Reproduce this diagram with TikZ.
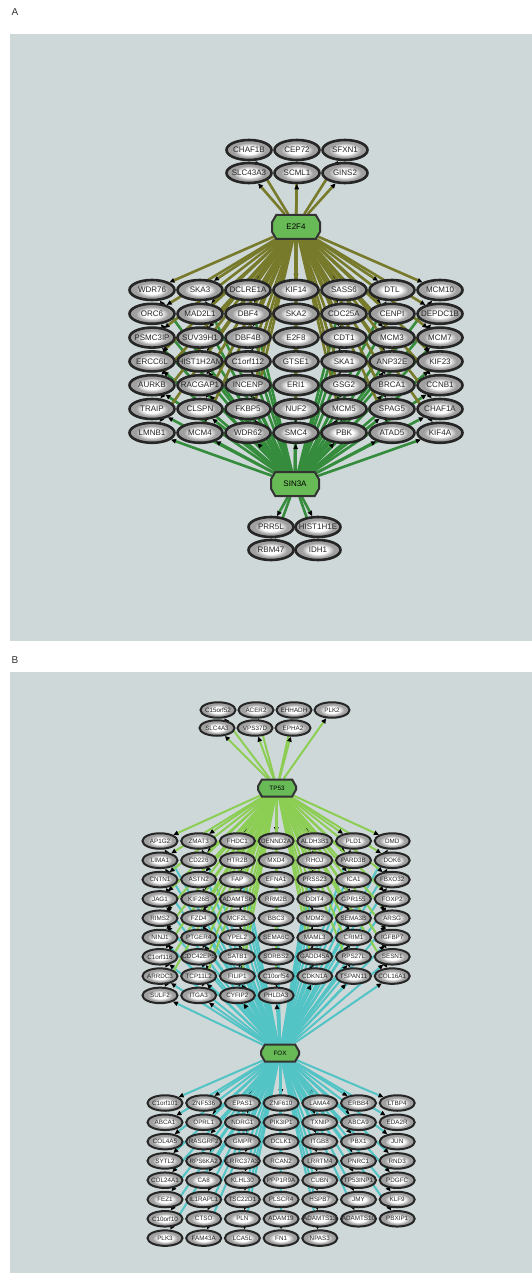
\documentclass[tikz,border=0pt]{standalone}
\usepackage{fontspec}
\setmainfont{Liberation Sans}
\usetikzlibrary{shapes.geometric,shapes.misc,arrows.meta}
\definecolor{panelbg}{RGB}{207,216,216}
\definecolor{oliveE}{RGB}{118,122,42}
\definecolor{greenS}{RGB}{52,140,60}
\definecolor{greenT}{RGB}{140,206,84}
\definecolor{cyanF}{RGB}{82,196,198}
\definecolor{hubfill}{RGB}{104,186,86}
\definecolor{generim}{RGB}{160,160,160}
\pgfdeclareradialshading{geneball}{\pgfpoint{0bp}{0bp}}{color(0bp)=(white); color(10bp)=(white); color(18bp)=(generim); color(50bp)=(generim)}
\pgfdeclarelayer{panel}
\pgfdeclarelayer{edges}
\pgfsetlayers{panel,edges,main}

\begin{document}
\begin{tikzpicture}[x=1pt,y=-1pt,
	gene/.style={ellipse,draw=black!85,shading=geneball,inner sep=0pt,text=black!85},
	geneA/.style={gene,line width=2.6pt,minimum width=45pt,minimum height=20pt,font=\fontsize{8}{8}\selectfont},
	geneB/.style={gene,line width=2pt,minimum width=35pt,minimum height=15.5pt,font=\fontsize{6.3}{6.3}\selectfont},
	hub/.style={chamfered rectangle,chamfered rectangle angle=30,draw=black!80,fill=hubfill,line width=2pt,inner sep=1pt},
	hubA/.style={hub,minimum width=48pt,minimum height=24pt,chamfered rectangle xsep=9pt,font=\fontsize{8}{8}\selectfont},
	hubB/.style={hub,minimum width=38pt,minimum height=17pt,chamfered rectangle xsep=7pt,font=\fontsize{6.3}{6.3}\selectfont},
	tip/.style={-{Triangle[color=black,length=5pt,width=4.5pt]}},
	linkE/.style={tip,oliveE,line width=2.6pt},
	linkS/.style={tip,greenS,line width=2.6pt},
	linkT/.style={tip,greenT,line width=2pt},
	linkF/.style={tip,cyanF,line width=2pt},
	panellabel/.style={font=\fontsize{10}{10}\selectfont,text=black!80}]
	\useasboundingbox (0,0) rectangle (532,1273);
	\begin{pgfonlayer}{panel}
		\fill[panelbg] (10,34) rectangle (532,641);
		\fill[panelbg] (10,672) rectangle (532,1273);
	\end{pgfonlayer}
	\node[panellabel] (labA) at (15,12) {A};
	\node[panellabel] (labB) at (15,660) {B};

	% panel A
	\node[hubA] (E2F4) at (296,227) {E2F4};
	\node[hubA] (SIN3A) at (295,484) {SIN3A};
	\foreach \g/\x/\y in {CHAF1B/249/150,CEP72/297/150,SFXN1/345/150,SLC43A3/249/173,SCML1/297/173,GINS2/345/173}{
		\node[geneA] (\g) at (\x,\y) {\makebox[0pt]{\g}};
		\begin{pgfonlayer}{edges}\draw[linkE] (E2F4) -- (\g);\end{pgfonlayer}
	}
	\foreach \row [count=\r] in {
		{WDR76,SKA3,DCLRE1A,KIF14,SASS6,DTL,MCM10},
		{ORC6,MAD2L1,DBF4,SKA2,CDC25A,CENPI,DEPDC1B},
		{PSMC3IP,SUV39H1,DBF4B,E2F8,CDT1,MCM3,MCM7},
		{ERCC6L,HIST1H2AM,C1orf112,GTSE1,SKA1,ANP32E,KIF23},
		{AURKB,RACGAP1,INCENP,ERI1,GSG2,BRCA1,CCNB1},
		{TRAIP,CLSPN,FKBP5,NUF2,MCM5,SPAG5,CHAF1A},
		{LMNB1,MCM4,WDR62,SMC4,PBK,ATAD5,KIF4A}}{
		\foreach \g [count=\c] in \row {
			\node[geneA] (a\r-\c) at ({152+48*(\c-1)},{290+23.8*(\r-1)}) {\makebox[0pt]{\g}};
			\begin{pgfonlayer}{edges}
				\draw[linkE] (E2F4) -- (a\r-\c);
				\draw[linkS] (SIN3A) -- (a\r-\c);
			\end{pgfonlayer}
		}
	}
	\foreach \g/\x/\y in {PRR5L/271/527,HIST1H1E/318/527,RBM47/271/550,IDH1/318/550}{
		\node[geneA] (\g) at (\x,\y) {\makebox[0pt]{\g}};
		\begin{pgfonlayer}{edges}\draw[linkS] (SIN3A) -- (\g);\end{pgfonlayer}
	}

	% panel B
	\node[hubB] (TP53) at (277,788) {TP53};
	\node[hubB] (FOX) at (280,1053) {FOX};
	\foreach \g/\x/\y in {C15orf52/218/710,ACER2/256/710,EHHADH/294/710,PLK2/332/710,SLC4A3/217/728,VPS37D/255/728,EPHA2/293/728}{
		\node[geneB] (\g) at (\x,\y) {\makebox[0pt]{\g}};
		\begin{pgfonlayer}{edges}\draw[linkT] (TP53) -- (\g);\end{pgfonlayer}
	}
	\foreach \row [count=\r] in {
		{AP1G2,ZMAT3,FHDC1,DENND2A,ALDH3B1,PLD1,DMD},
		{LIMA1,CD226,HTR2B,MXD4,RHOJ,PARD3B,DOK6},
		{CNTN1,ASTN2,FAP,EFNA1,PRSS23,ICA1,FBXO32},
		{JAG1,KIF26B,ADAMTS6,RRM2B,DDIT4,GPR155,FOXP2},
		{RIMS2,FZD4,MCF2L,BBC3,MDM2,SEMA3B,ARSG},
		{NINJ1,PTGER4,YPEL2,SEMA6C,MAML3,CRIM1,IGFBP7},
		{C1orf116,CDC42EP5,SATB1,SORBS2,GADD45A,RPS27L,SESN1},
		{ARRDC3,TCP11L2,FILIP1,C10orf54,CDKN1A,TSPAN11,COL16A1},
		{SULF2,ITGA3,CYFIP2,PHLDA3}}{
		\foreach \g [count=\c] in \row {
			\node[geneB] (b\r-\c) at ({160+38.7*(\c-1)},{841+19.3*(\r-1)}) {\makebox[0pt]{\g}};
			\begin{pgfonlayer}{edges}
				\draw[linkT] (TP53) -- (b\r-\c);
				\draw[linkF] (FOX) -- (b\r-\c);
			\end{pgfonlayer}
		}
	}
	\foreach \row [count=\r] in {
		{C1orf101,ZNF536,EPAS1,ZNF610,LAMA4,ERBB4,LTBP4},
		{ABCA1,OPRL1,NDRG1,PIK3IP1,TXNIP,ABCA9,EDA2R},
		{COL4A5,RASGRF2,GMPR,DCLK1,ITGB8,PBX1,JUN},
		{SYTL2,RPS6KA2,LRRC37A3,RCAN2,LRRTM4,PNRC1,RND3},
		{COL24A1,CA8,KLHL30,PPP1R9A,CUBN,TP53INP1,PDGFC},
		{FEZ1,IL1RAPL1,TSC22D1,PLSCR4,HSPB7,JMY,KLF9},
		{C10orf10,CTSO,PLN,ADAM19,ADAMTS13,ADAMTS10,PBXIP1},
		{PLK3,FAM43A,LCA5L,FN1,NPAS3}}{
		\foreach \g [count=\c] in \row {
			\node[geneB] (c\r-\c) at ({165+38.7*(\c-1)},{1103+19.3*(\r-1)}) {\makebox[0pt]{\g}};
			\begin{pgfonlayer}{edges}\draw[linkF] (FOX) -- (c\r-\c);\end{pgfonlayer}
		}
	}
\end{tikzpicture}
\end{document}
